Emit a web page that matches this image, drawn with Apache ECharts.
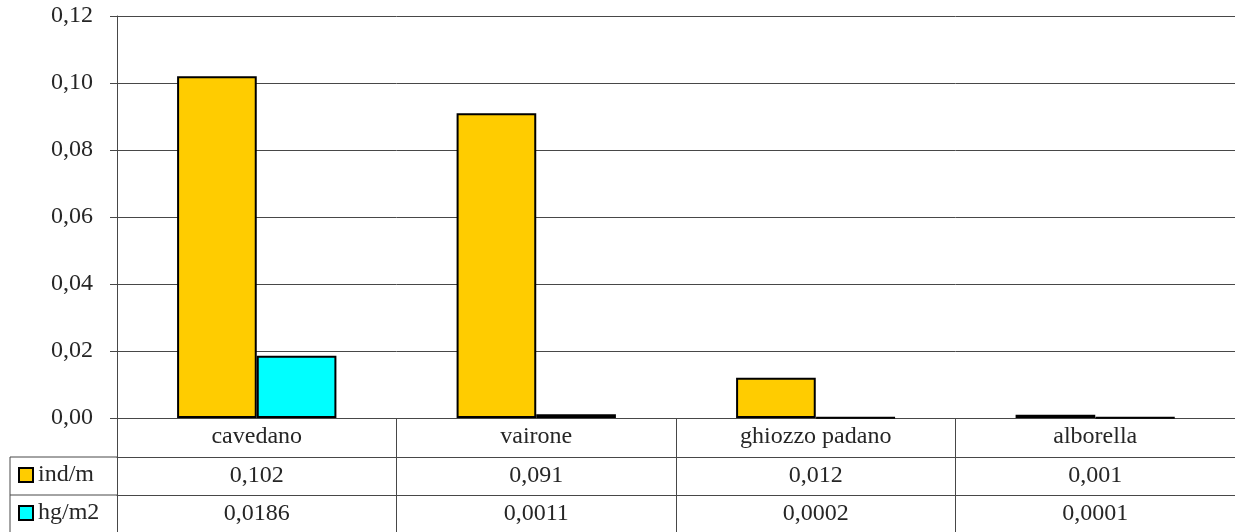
<!DOCTYPE html>
<html>
<head>
<meta charset="utf-8">
<script src="https://cdn.jsdelivr.net/npm/echarts@6/dist/echarts.min.js"></script>
<style>
  html, body { margin: 0; padding: 0; background: #fff; }
  #chart { width: 1235px; height: 532px; }
</style>
</head>
<body>
<div id="chart"></div>
<script>
const categories = ['cavedano', 'vairone', 'ghiozzo padano', 'alborella']
const seriesNames = ['ind/m', 'hg/m2']
const indValues = [0.102, 0.091, 0.012, 0.001]
const hgValues = [0.0186, 0.0011, 0.0002, 0.0001]

const FONT = '"Liberation Serif", "DejaVu Serif", serif'
const FS = 24
const TEXT = '#262626'
const LINE = '#484848'

function comma(v) {
  return String(v).replace('.', ',')
}

const chart = echarts.init(document.getElementById('chart'))

function tableAxis(data, offset, len) {
  return {
    type: 'category',
    data: data,
    position: 'bottom',
    offset: offset,
    boundaryGap: true,
    axisLine: { show: true, lineStyle: { color: LINE, width: 1 } },
    axisTick: { show: true, length: len, lineStyle: { color: LINE, width: 1 } },
    axisLabel: { margin: 7, color: TEXT, fontFamily: FONT, fontSize: FS, interval: 0 },
    splitLine: { show: false }
  }
}

function legendRow(name, top) {
  return {
    orient: 'vertical',
    left: 13,
    top: top,
    icon: 'rect',
    itemWidth: 14,
    itemHeight: 14,
    data: [name],
    textStyle: { color: TEXT, fontFamily: FONT, fontSize: FS }
  }
}

chart.setOption({
  animation: false,
  grid: { left: 117, right: 0, top: 16, bottom: 114, containLabel: false },
  legend: [legendRow(seriesNames[0], 458), legendRow(seriesNames[1], 496)],
  graphic: [
    { type: 'line', shape: { x1: 10, y1: 457, x2: 117, y2: 457 }, style: { stroke: LINE, lineWidth: 1 } },
    { type: 'line', shape: { x1: 10, y1: 495, x2: 117, y2: 495 }, style: { stroke: LINE, lineWidth: 1 } },
    { type: 'line', shape: { x1: 10, y1: 457, x2: 10, y2: 532 }, style: { stroke: LINE, lineWidth: 1 } }
  ],
  xAxis: [
    tableAxis(categories, 0, 39),
    tableAxis(indValues.map(comma), 39, 38),
    tableAxis(hgValues.map(comma), 77, 37)
  ],
  yAxis: {
    type: 'value',
    min: 0,
    max: 0.12,
    interval: 0.02,
    axisLine: { show: true, lineStyle: { color: LINE, width: 1 } },
    axisTick: { show: true, length: 7, lineStyle: { color: LINE } },
    axisLabel: {
      margin: 24,
      color: TEXT,
      fontFamily: FONT,
      fontSize: FS,
      formatter: (v) => v.toFixed(2).replace('.', ',')
    },
    splitLine: { show: true, lineStyle: { color: LINE, width: 1 } }
  },
  series: [
    {
      name: seriesNames[0],
      type: 'bar',
      xAxisIndex: 0,
      data: indValues,
      barGap: '0%',
      barCategoryGap: '43%',
      itemStyle: { color: '#ffcc00', borderColor: '#000', borderWidth: 2 }
    },
    {
      name: seriesNames[1],
      type: 'bar',
      xAxisIndex: 0,
      data: hgValues,
      barGap: '0%',
      barCategoryGap: '43%',
      itemStyle: { color: '#00ffff', borderColor: '#000', borderWidth: 2 }
    }
  ]
})
</script>
</body>
</html>
